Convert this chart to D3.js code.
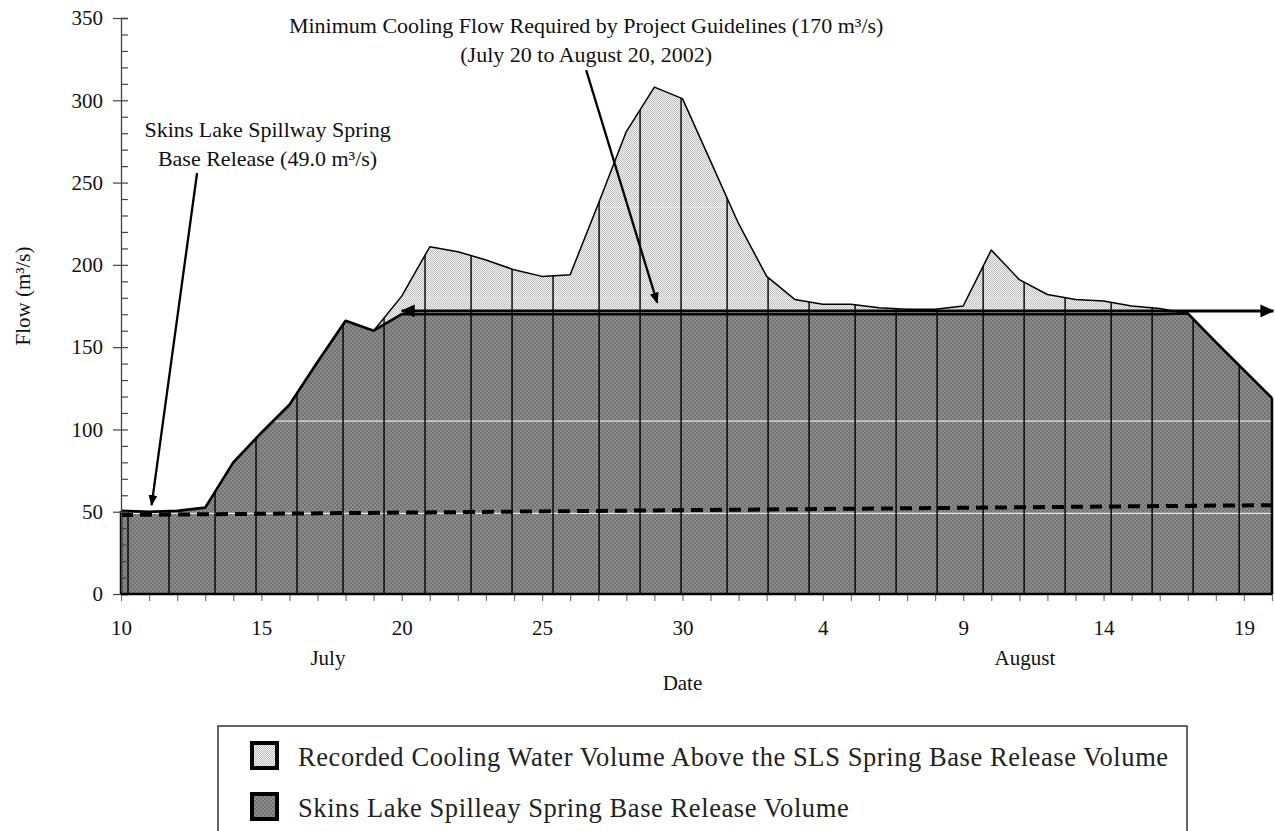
<!DOCTYPE html>
<html>
<head>
<meta charset="utf-8">
<script src="https://cdnjs.cloudflare.com/ajax/libs/d3/7.8.5/d3.min.js"></script>
<style>
  body { margin: 0; background: #fff; }
  svg text { font-family: 'Liberation Serif', 'Times New Roman', serif; fill: #111; }
  .legend-text { font-family: 'Liberation Serif', serif; font-size: 26.5px; letter-spacing: 0.58px; fill: #222; }
</style>
</head>
<body>
<div id="flow_chart"></div>
<script>
// daily flow, July 10 to August 20 2002 (m3/s)
var recordedFlow = [50.5, 50, 50.5, 52.5, 80, 98, 115, 141, 166, 160,
  181, 211, 208, 203, 197, 193, 194, 237, 281, 308,
  301, 263, 225, 193, 179, 176, 176, 174, 173, 173,
  175, 209, 191, 182, 179, 178, 175, 173.5, 170.5, 153,
  136, 119];

var baseRelease = [50.5, 50, 50.5, 52.5, 80, 98, 115, 141, 166, 160,
  170, 170, 170, 170, 170, 170, 170, 170, 170, 170,
  170, 170, 170, 170, 170, 170, 170, 170, 170, 170,
  170, 170, 170, 170, 170, 170, 170, 170, 170.5, 153,
  136, 119];

// dashed spring base release line (start / end)
var springBaseDays = [0, 41];
var springBaseValues = [48, 54];

// vertical drop lines (day offsets from July 10)
var dropLineDays = [0.25, 1.71, 3.35, 4.81, 6.27, 7.91, 9.37, 10.83, 12.47, 13.93,
  15.39, 17.03, 18.49, 19.95, 21.59, 23.05, 24.51, 26.15, 27.61, 29.07,
  30.71, 32.17, 33.63, 35.27, 36.73, 38.19, 39.83];

// faint horizontal lines showing through the fills
var faintLines = [49, 105, 180, 235];

var xTickDays = [0, 5, 10, 15, 20, 25, 30, 35, 40];
var xTickLabels = ['10', '15', '20', '25', '30', '4', '9', '14', '19'];
var yTicks = [0, 50, 100, 150, 200, 250, 300, 350];

var months = ['July', 'August'];
var monthDays = [7.37, 32.2];

var minFlowArrow = { from: 10, to: 41.05, value: 172 };

var legendLabels = ['Recorded Cooling Water Volume Above the SLS Spring Base Release Volume',
  'Skins Lake Spilleay Spring Base Release Volume'];

var width = 1275;
var height = 831;

var x = d3.scaleLinear().domain([0, 41]).range([121, 1272]);
var y = d3.scaleLinear().domain([0, 350]).range([594, 18]);

var svg = d3.select('#flow_chart').append('svg')
  .attr('width', width)
  .attr('height', height);

var defs = svg.append('defs');

// fill patterns
var dark = defs.append('pattern')
  .attr('id', 'darkFill')
  .attr('patternUnits', 'userSpaceOnUse')
  .attr('width', 4).attr('height', 4);
dark.append('rect').attr('width', 4).attr('height', 4).attr('fill', '#8d8d8d');
dark.append('rect').attr('width', 2).attr('height', 2).attr('fill', '#727272');
dark.append('rect').attr('x', 2).attr('y', 2).attr('width', 2).attr('height', 2).attr('fill', '#727272');

var light = defs.append('pattern')
  .attr('id', 'lightFill')
  .attr('patternUnits', 'userSpaceOnUse')
  .attr('width', 2).attr('height', 2);
light.append('rect').attr('width', 2).attr('height', 2).attr('fill', '#f4f4f4');
light.append('rect').attr('width', 1).attr('height', 1).attr('fill', '#bdbdbd');
light.append('rect').attr('x', 1).attr('y', 1).attr('width', 1).attr('height', 1).attr('fill', '#bdbdbd');

function addMarker(id, w, h) {
  defs.append('marker')
    .attr('id', id)
    .attr('viewBox', '0 0 ' + w + ' ' + h)
    .attr('markerUnits', 'userSpaceOnUse')
    .attr('markerWidth', w)
    .attr('markerHeight', h)
    .attr('refX', w - 1)
    .attr('refY', h / 2)
    .attr('orient', 'auto-start-reverse')
    .append('path')
    .attr('d', 'M0,0L' + w + ',' + (h / 2) + 'L0,' + h + 'Z')
    .attr('fill', '#000');
}
addMarker('bigHead', 14, 13);
addMarker('smallHead', 11, 9);

var totalArea = d3.area()
  .x(function(d, i) { return x(i); })
  .y0(y(0))
  .y1(function(d) { return y(d); });

defs.append('clipPath')
  .attr('id', 'flowClip')
  .append('path')
  .attr('d', totalArea(recordedFlow));

// light area between base release and recorded flow
var aboveArea = d3.area()
  .x(function(d, i) { return x(i); })
  .y0(function(d, i) { return y(baseRelease[i]); })
  .y1(function(d) { return y(d); });

svg.append('path')
  .attr('d', aboveArea(recordedFlow))
  .attr('fill', 'url(#lightFill)');

svg.append('path')
  .attr('d', totalArea(baseRelease))
  .attr('fill', 'url(#darkFill)');

var clipped = svg.append('g').attr('clip-path', 'url(#flowClip)');

clipped.selectAll('.faint')
  .data(faintLines)
  .enter()
  .append('line')
  .attr('class', 'faint')
  .attr('x1', x(0)).attr('x2', x(41))
  .attr('y1', function(d) { return y(d); })
  .attr('y2', function(d) { return y(d); })
  .attr('stroke', '#e6e6e6')
  .attr('stroke-width', 1.2);

clipped.selectAll('.drop')
  .data(dropLineDays)
  .enter()
  .append('line')
  .attr('class', 'drop')
  .attr('x1', function(d) { return x(d); })
  .attr('x2', function(d) { return x(d); })
  .attr('y1', y(0))
  .attr('y2', y(350))
  .attr('stroke', '#000')
  .attr('stroke-width', 1.4);

// dashed spring base line
var dashLine = d3.line()
  .x(function(d) { return x(d); })
  .y(function(d, i) { return y(springBaseValues[i]); });

svg.append('path')
  .attr('d', dashLine(springBaseDays))
  .attr('fill', 'none')
  .attr('stroke', '#000')
  .attr('stroke-width', 4)
  .attr('stroke-dasharray', '12,7');

var flowLine = d3.line()
  .x(function(d, i) { return x(i); })
  .y(function(d) { return y(d); });

svg.append('path')
  .attr('d', flowLine(recordedFlow))
  .attr('fill', 'none')
  .attr('stroke', '#000')
  .attr('stroke-width', 1.5)
  .attr('stroke-linejoin', 'round');

svg.append('path')
  .attr('d', flowLine(baseRelease))
  .attr('fill', 'none')
  .attr('stroke', '#000')
  .attr('stroke-width', 2.6)
  .attr('stroke-linejoin', 'round');

// left and right edges of the area
svg.selectAll('.edge')
  .data([0, recordedFlow.length - 1])
  .enter()
  .append('line')
  .attr('class', 'edge')
  .attr('x1', function(d) { return x(d); })
  .attr('x2', function(d) { return x(d); })
  .attr('y1', y(0))
  .attr('y2', function(d) { return y(recordedFlow[d]); })
  .attr('stroke', '#000')
  .attr('stroke-width', 2.5);

// axes
var yMinor = d3.axisRight(y)
  .tickValues(d3.range(0, 351, 10))
  .tickSize(7)
  .tickFormat('');

svg.append('g')
  .attr('transform', 'translate(' + x(0) + ',0)')
  .call(yMinor)
  .call(function(g) {
    g.select('.domain').attr('stroke', '#444').attr('stroke-width', 1.3);
    g.selectAll('line').attr('stroke', '#444').attr('stroke-width', 1.2);
  });

var yAxis = d3.axisLeft(y)
  .tickValues(yTicks)
  .tickSize(8)
  .tickPadding(10);

svg.append('g')
  .attr('transform', 'translate(' + x(0) + ',0)')
  .call(yAxis)
  .call(function(g) {
    g.select('.domain').remove();
    g.selectAll('line').attr('stroke', '#444').attr('stroke-width', 1.2);
    g.selectAll('text').style('font-size', '21px').attr('fill', '#111');
  });

var xMinor = d3.axisBottom(x)
  .tickValues(d3.range(0, 42))
  .tickSize(7)
  .tickFormat('');

svg.append('g')
  .attr('transform', 'translate(0,' + y(0) + ')')
  .call(xMinor)
  .call(function(g) {
    g.select('.domain').remove();
    g.selectAll('line').attr('stroke', '#777').attr('stroke-width', 1.2);
  });

var xAxis = d3.axisBottom(x)
  .tickValues(xTickDays)
  .tickSize(0)
  .tickPadding(26)
  .tickFormat(function(d, i) { return xTickLabels[i]; });

svg.append('g')
  .attr('transform', 'translate(0,' + y(0) + ')')
  .call(xAxis)
  .call(function(g) {
    g.select('.domain').remove();
    g.selectAll('text').style('font-size', '21px').attr('fill', '#111');
  });

svg.append('line')
  .attr('x1', x(0)).attr('x2', x(41))
  .attr('y1', y(0)).attr('y2', y(0))
  .attr('stroke', '#000')
  .attr('stroke-width', 2.5);

svg.selectAll('.month')
  .data(months)
  .enter()
  .append('text')
  .attr('class', 'month')
  .attr('x', function(d, i) { return x(monthDays[i]); })
  .attr('y', 665)
  .attr('text-anchor', 'middle')
  .style('font-size', '21px')
  .text(function(d) { return d; });

svg.append('text')
  .attr('x', x(20))
  .attr('y', 690)
  .attr('text-anchor', 'middle')
  .style('font-size', '21px')
  .text('Date');

svg.append('text')
  .attr('transform', 'translate(30,296) rotate(-90)')
  .attr('text-anchor', 'middle')
  .style('font-size', '21px')
  .text('Flow (m³/s)');

// minimum cooling flow arrow
svg.append('line')
  .attr('x1', x(minFlowArrow.from)).attr('x2', x(minFlowArrow.to))
  .attr('y1', y(minFlowArrow.value)).attr('y2', y(minFlowArrow.value))
  .attr('stroke', '#000')
  .attr('stroke-width', 3)
  .attr('marker-start', 'url(#bigHead)')
  .attr('marker-end', 'url(#bigHead)');

// annotations
var notes = [
  { lines: ['Minimum Cooling Flow Required by Project Guidelines (170 m³/s)', '(July 20 to August 20, 2002)'],
    cx: 16.57, top: 340.8, from: [16.57, 318.3], to: [19.1, 177] },
  { lines: ['Skins Lake Spillway Spring', 'Base Release (49.0 m³/s)'],
    cx: 5.22, top: 277.6, from: [2.71, 255.8], to: [1.09, 54] }
];

notes.forEach(function(n) {
  var t = svg.append('text')
    .attr('text-anchor', 'middle')
    .style('font-size', '22px');
  n.lines.forEach(function(l, i) {
    t.append('tspan')
      .attr('x', x(n.cx))
      .attr('y', y(n.top) + i * 28.5)
      .text(l);
  });
  svg.append('line')
    .attr('x1', x(n.from[0])).attr('y1', y(n.from[1]))
    .attr('x2', x(n.to[0])).attr('y2', y(n.to[1]))
    .attr('stroke', '#000')
    .attr('stroke-width', 2.3)
    .attr('marker-end', 'url(#smallHead)');
});

// legend
svg.append('rect')
  .attr('x', 218)
  .attr('y', 726)
  .attr('width', 969)
  .attr('height', 200)
  .attr('fill', 'none')
  .attr('stroke', '#333')
  .attr('stroke-width', 1.5);

var legend = svg.selectAll('.legend-item')
  .data(legendLabels)
  .enter()
  .append('g')
  .attr('class', 'legend-item')
  .attr('transform', function(d, i) {
    return 'translate(250,' + (741 + i * 51) + ')';
  });

legend.append('rect')
  .attr('x', 2).attr('y', 2)
  .attr('width', 25)
  .attr('height', 25)
  .attr('fill', function(d, i) { return i === 0 ? 'url(#lightFill)' : 'url(#darkFill)'; })
  .attr('stroke', '#000')
  .attr('stroke-width', 4);

legend.append('text')
  .attr('class', 'legend-text')
  .attr('x', 48)
  .attr('y', 25)
  .text(function(d) { return d; });
</script>
</body>
</html>
